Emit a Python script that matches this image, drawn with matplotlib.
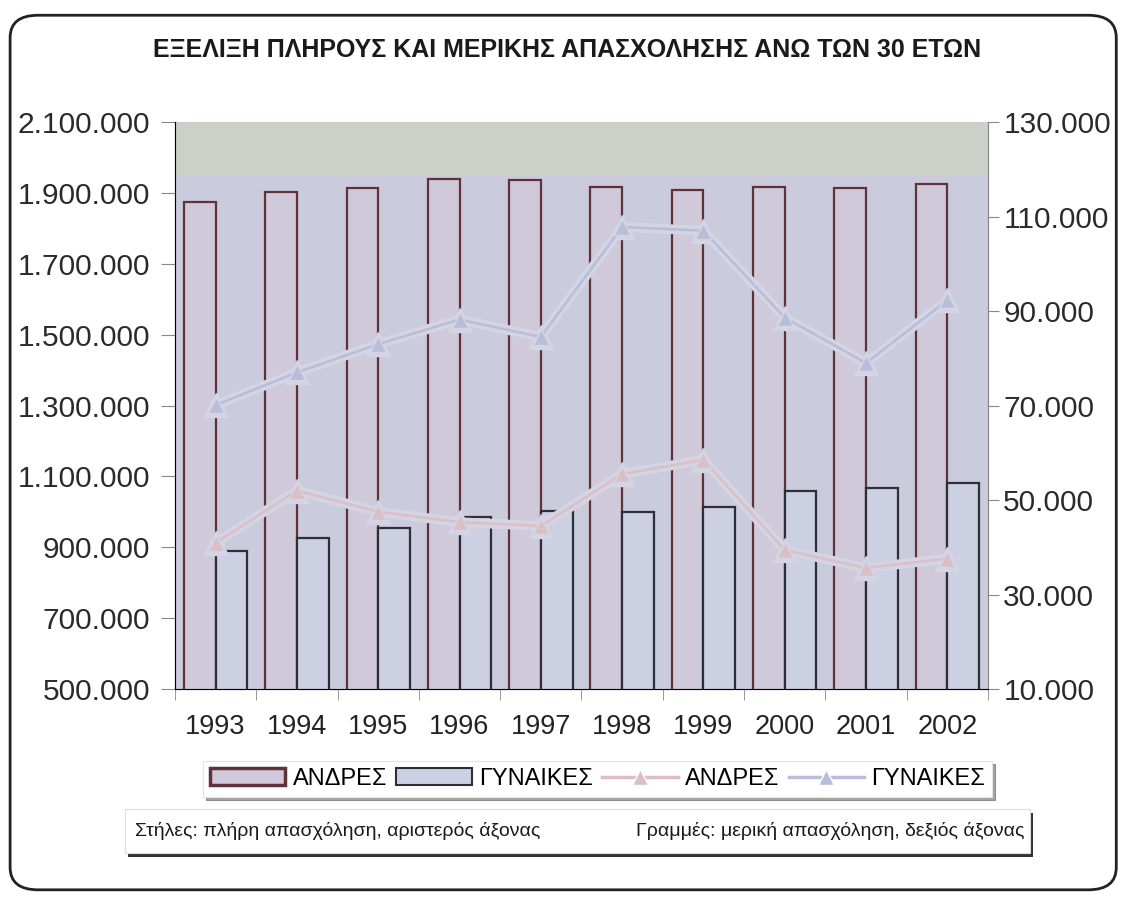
import matplotlib.pyplot as plt
from matplotlib.patches import Rectangle, FancyBboxPatch
from matplotlib.lines import Line2D
from matplotlib.ticker import FuncFormatter
import numpy as np

plt.rcParams['font.family'] = ['Liberation Sans', 'DejaVu Sans']

# data
years = ["1993", "1994", "1995", "1996", "1997", "1998", "1999", "2000", "2001", "2002"]
full_men = [1874000, 1902000, 1914000, 1939000, 1936000, 1917000, 1908000, 1917000, 1914000, 1925000]
full_women = [889000, 926000, 954000, 985000, 1003000, 999000, 1014000, 1059000, 1067000, 1081000]
part_men = [40900, 52000, 47500, 45300, 44500, 55500, 58500, 39400, 35600, 37600]
part_women = [70100, 77000, 83000, 88200, 84500, 107800, 107000, 88600, 79000, 92300]

left_ticks = [500000, 700000, 900000, 1100000, 1300000, 1500000, 1700000, 1900000, 2100000]
right_ticks = [10000, 30000, 50000, 70000, 90000, 110000, 130000]

title = "ΕΞΕΛΙΞΗ ΠΛΗΡΟΥΣ ΚΑΙ ΜΕΡΙΚΗΣ ΑΠΑΣΧΟΛΗΣΗΣ ΑΝΩ ΤΩΝ 30 ΕΤΩΝ"
labels = ["ΑΝΔΡΕΣ", "ΓΥΝΑΙΚΕΣ", "ΑΝΔΡΕΣ", "ΓΥΝΑΙΚΕΣ"]
note_left = "Στήλες: πλήρη απασχόληση, αριστερός άξονας"
note_right = "Γραμμές: μερική απασχόληση, δεξιός άξονας"

plot_bg = "#cacbdd"
band_bg = "#cdd0c9"
men_edge = "#5e3236"
women_edge = "#2e2e36"
men_face = "#cfc9da"
women_face = "#cdcfe2"
men_line = "#dcbfc4"
women_line = "#b9bdd8"
halo = "#d3d4e4"


def dots(v, pos=None):
    return f"{int(round(v)):,}".replace(",", ".")


fig = plt.figure(figsize=(11.23, 8.97), dpi=100)

# rounded outer frame
frame = FancyBboxPatch((0.009, 0.008), 0.985, 0.975, boxstyle="round,pad=0,rounding_size=0.025",
                       transform=fig.transFigure, facecolor="none", edgecolor="#222222",
                       linewidth=2, zorder=-1)
fig.patches.append(frame)

ax = fig.add_axes([0.1558, 0.2319, 0.724, 0.632])
ax.set_facecolor(plot_bg)
x = np.arange(len(years))
w = 0.39

ax.axhspan(1950000, 2100000, color=band_bg, zorder=0, lw=0)
ax.bar(x - w / 2, full_men, w, facecolor=men_face, edgecolor=men_edge, linewidth=1.6, zorder=2)
ax.bar(x + w / 2, full_women, w, facecolor=women_face, edgecolor=women_edge, linewidth=1.6, zorder=2)

ax.set_ylim(500000, 2100000)
ax.set_xlim(-0.5, len(years) - 0.5)
ax.set_yticks(left_ticks)
ax.yaxis.set_major_formatter(FuncFormatter(dots))
ax.set_xticks(x)
ax.set_xticklabels(years)
ax.set_xticks(np.arange(-0.5, len(years), 1), minor=True)
ax.tick_params(axis="x", which="major", length=0, labelsize=19.5, pad=18, colors="#222222")
ax.tick_params(axis="x", which="minor", length=8, color="#888888", direction="out")
ax.tick_params(axis="y", labelsize=21.5, length=10, color="#888888", pad=8, labelcolor="#2a2a2a")
ax.spines["top"].set_visible(False)
for s in ["left", "bottom", "right"]:
    ax.spines[s].set_color("#888888")

ax2 = ax.twinx()
ax2.set_ylim(10000, 130000)
ax2.set_yticks(right_ticks)
ax2.yaxis.set_major_formatter(FuncFormatter(dots))
ax2.tick_params(axis="y", labelsize=21.5, length=8, color="#888888", pad=3, labelcolor="#2a2a2a")
ax2.spines["top"].set_visible(False)
ax2.spines["right"].set_color("#888888")
for vals, col in [(part_women, women_line), (part_men, men_line)]:
    ax2.plot(x, vals, color=halo, lw=7, marker="^", ms=17, mec=halo, zorder=3)
    ax2.plot(x, vals, color=col, lw=1.8, marker="^", ms=11, mec=halo, mew=1, zorder=4)

fig.text(0.505, 0.944, title, ha="center", va="center", fontsize=18, fontweight="bold", color="#1a1a1a")

handles = [
    Rectangle((0, 0), 1, 1, facecolor=men_face, edgecolor=men_edge, linewidth=2.5),
    Rectangle((0, 0), 1, 1, facecolor=women_face, edgecolor=women_edge, linewidth=1.5),
    Line2D([], [], color=men_line, lw=2.5, marker="^", ms=11, mec="white"),
    Line2D([], [], color=women_line, lw=2.5, marker="^", ms=11, mec="white"),
]
leg = fig.legend(handles, labels, loc="center", bbox_to_anchor=(0.532, 0.1316), ncol=4,
                 frameon=True, fancybox=False, shadow=True, fontsize=17, handlelength=3.2,
                 handleheight=0.7, columnspacing=0.4, handletextpad=0.3, borderpad=0.3,
                 edgecolor="#e4e4e4")
leg.get_frame().set_linewidth(0.8)

# note box with shadow
fig.patches.append(Rectangle((0.1143, 0.0445), 0.806, 0.0492, transform=fig.transFigure,
                             facecolor="#333333", edgecolor="none", zorder=1))
fig.patches.append(Rectangle((0.1113, 0.049), 0.806, 0.0492, transform=fig.transFigure,
                             facecolor="white", edgecolor="#dddddd", linewidth=0.8, zorder=2))
fig.text(0.1202, 0.0736, note_left, ha="left", va="center", fontsize=14, color="#1a1a1a", zorder=3)
fig.text(0.9127, 0.0736, note_right, ha="right", va="center", fontsize=14, color="#1a1a1a", zorder=3)

fig.savefig("out.png", dpi=100)
